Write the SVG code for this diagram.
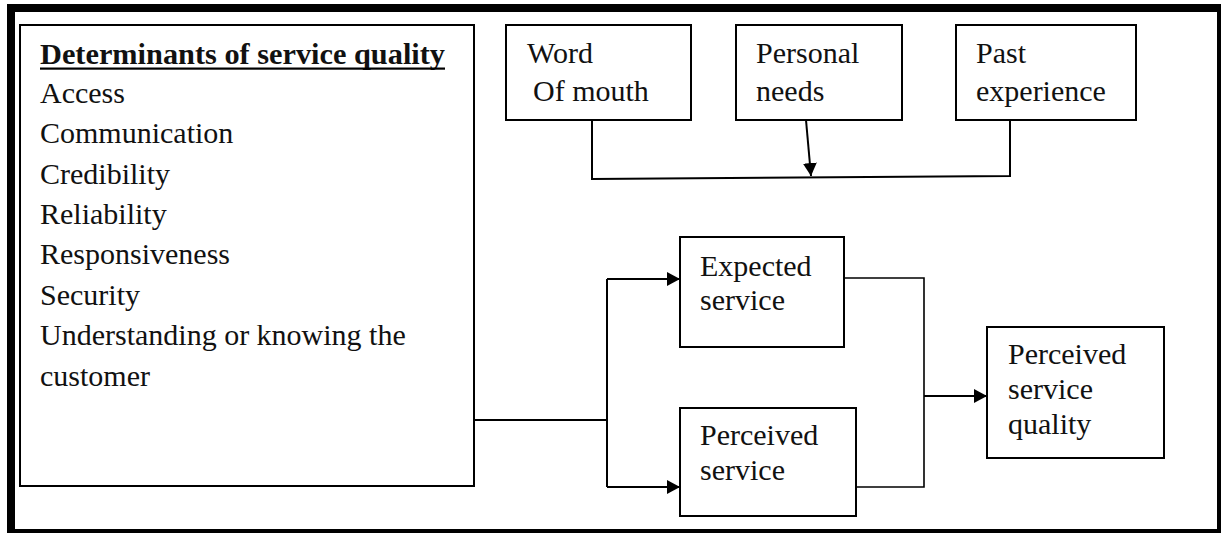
<svg xmlns="http://www.w3.org/2000/svg" width="1223" height="533" viewBox="0 0 1223 533">
<style>
.box{fill:#fff;stroke:#000;stroke-width:2}
.t{font-family:"Liberation Serif","Times New Roman",serif;font-size:30px;fill:#111}
.b{font-weight:bold}
.c{fill:none;stroke:#000;stroke-width:2}
.c2{fill:none;stroke:#000;stroke-width:1.6}
</style>
<defs>
<marker id="arr" markerWidth="13" markerHeight="14" refX="13" refY="7" orient="auto" markerUnits="userSpaceOnUse">
<path d="M0,0 L13,7 L0,14 Z" fill="#000"/>
</marker>
</defs>
<rect width="1223" height="533" fill="#fff"/>
<g id="frame" fill="#000">
<rect x="7" y="4" width="1214" height="8"/>
<rect x="7" y="4" width="8" height="529"/>
<rect x="1217" y="4" width="4" height="529"/>
<rect x="7" y="529" width="1214" height="4"/>
</g>
<g id="determinants">
<rect class="box" x="20" y="25" width="454" height="461"/>
<text class="t b" x="40" y="64" textLength="405" lengthAdjust="spacingAndGlyphs">Determinants of service quality</text>
<rect x="40" y="67.5" width="405" height="2.2" fill="#000"/>
<text class="t" x="40" y="103">Access</text>
<text class="t" x="40" y="143">Communication</text>
<text class="t" x="40" y="183.5">Credibility</text>
<text class="t" x="40" y="224">Reliability</text>
<text class="t" x="40" y="264">Responsiveness</text>
<text class="t" x="40" y="305">Security</text>
<text class="t" x="40" y="345">Understanding or knowing the</text>
<text class="t" x="40" y="385.5">customer</text>
</g>
<g id="word-of-mouth">
<rect class="box" x="506" y="25" width="185" height="95"/>
<text class="t" x="527" y="63">Word</text>
<text class="t" x="533" y="101">Of mouth</text>
</g>
<g id="personal-needs">
<rect class="box" x="736" y="25" width="166" height="95"/>
<text class="t" x="756" y="63">Personal</text>
<text class="t" x="756" y="101">needs</text>
</g>
<g id="past-experience">
<rect class="box" x="956" y="25" width="180" height="95"/>
<text class="t" x="976" y="63">Past</text>
<text class="t" x="976" y="101">experience</text>
</g>
<g id="expected-service">
<rect class="box" x="680" y="237" width="164" height="110"/>
<text class="t" x="700" y="276">Expected</text>
<text class="t" x="700" y="310">service</text>
</g>
<g id="perceived-service">
<rect class="box" x="680" y="408" width="176" height="108"/>
<text class="t" x="700" y="445">Perceived</text>
<text class="t" x="700" y="480">service</text>
</g>
<g id="perceived-service-quality">
<rect class="box" x="987" y="327" width="177" height="131"/>
<text class="t" x="1008" y="364">Perceived</text>
<text class="t" x="1008" y="399">service</text>
<text class="t" x="1008" y="434">quality</text>
</g>
<g id="connectors">
<path class="c" d="M592,120 V179 L1010,176 V120"/>
<path class="c" d="M806,120 L811,176" marker-end="url(#arr)"/>
<path class="c" d="M474,420 H607"/>
<path class="c" d="M607,279 V487"/>
<path class="c" d="M607,279 H680" marker-end="url(#arr)"/>
<path class="c" d="M607,487 H680" marker-end="url(#arr)"/>
<path class="c2" d="M844,278 H924 V487 H856"/>
<path class="c" d="M924,396 H987" marker-end="url(#arr)"/>
</g>
</svg>
